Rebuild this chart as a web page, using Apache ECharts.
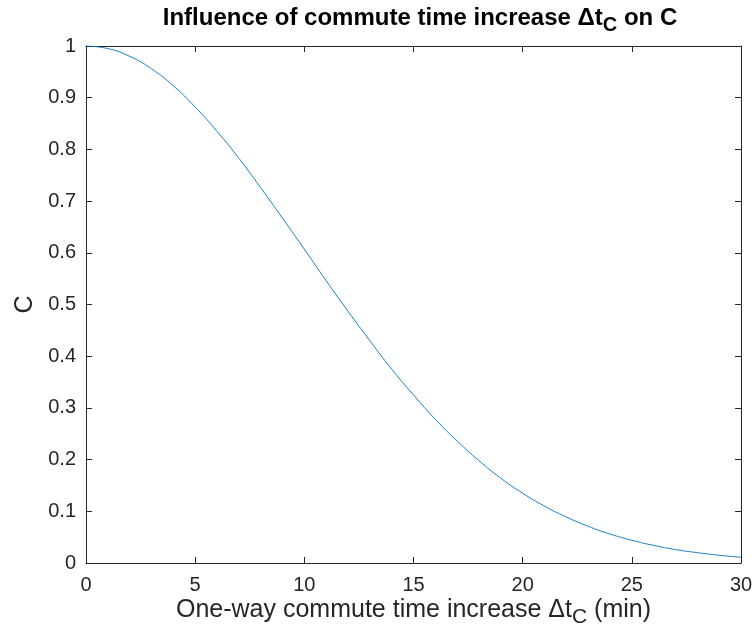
<!DOCTYPE html>
<html>
<head>
<meta charset="utf-8">
<script src="https://cdn.jsdelivr.net/npm/echarts@6/dist/echarts.min.js"></script>
<style>
  html, body { margin: 0; padding: 0; background: #fff; }
  #chart { width: 755px; height: 632px; }
</style>
</head>
<body>
<div id="chart"></div>
<script>
// commute time increase (min) and C
const commuteMinutes = [0, 1, 2, 3, 4, 5, 6, 7, 8, 9, 10, 11, 12, 13, 14, 15,
  16, 17, 18, 19, 20, 21, 22, 23, 24, 25, 26, 27, 28, 29, 30];
const cValues = [1.0, 0.995, 0.98, 0.956, 0.923, 0.882, 0.835, 0.783, 0.726, 0.667,
  0.607, 0.546, 0.487, 0.43, 0.375, 0.325, 0.278, 0.236, 0.198, 0.164,
  0.135, 0.11, 0.089, 0.071, 0.056, 0.044, 0.034, 0.026, 0.02, 0.015, 0.011];
const xTicks = [0, 5, 10, 15, 20, 25, 30];
const yTicks = [0, 0.1, 0.2, 0.3, 0.4, 0.5, 0.6, 0.7, 0.8, 0.9, 1];

const font = '"Liberation Sans", Arial, Helvetica, sans-serif';
const axisColor = '#262626';

const chart = echarts.init(document.getElementById('chart'));

const frameAxis = (extra) => Object.assign({
  type: 'value',
  axisLine: { show: true, onZero: false, lineStyle: { color: axisColor, width: 1 } },
  axisTick: { show: true, inside: true, length: 6, lineStyle: { color: axisColor } },
  splitLine: { show: false },
}, extra);

const option = {
  animation: false,
  title: {
    text: '{m|Influence of commute time increase Δt}{s|C}{m| on C}',
    left: 415,
    textAlign: 'center',
    top: -2,
    textStyle: {
      rich: {
        m: { fontFamily: font, fontSize: 24, fontWeight: 'bold', color: '#000', lineHeight: 30 },
        s: { fontFamily: font, fontSize: 20, fontWeight: 'bold', color: '#000', padding: [14, 0, 0, 0], lineHeight: 30 },
      },
    },
  },
  grid: { left: 86, right: 14, top: 46, bottom: 69, containLabel: false, outerBoundsMode: 'none' },
  xAxis: [
    frameAxis({
      position: 'bottom',
      min: 0, max: 30, interval: 5,
      axisLabel: {
        color: axisColor, fontFamily: font, fontSize: 20, margin: 12,
        formatter: (v) => xTicks.includes(v) ? String(v) : '',
      },
      name: '{m|One-way commute time increase Δt}{s|C}{m| (min)}',
      nameLocation: 'middle',
      nameGap: 32,
      nameMoveOverlap: false,
      nameTextStyle: {
        rich: {
          m: { fontFamily: font, fontSize: 25, color: axisColor, lineHeight: 30 },
          s: { fontFamily: font, fontSize: 21, color: axisColor, padding: [14, 0, 0, 0], lineHeight: 30 },
        },
      },
    }),
    frameAxis({
      position: 'top',
      min: 0, max: 30, interval: 5,
      axisLabel: { show: false },
    }),
  ],
  yAxis: [
    frameAxis({
      position: 'left',
      min: 0, max: 1, interval: 0.1,
      axisLabel: {
        color: axisColor, fontFamily: font, fontSize: 20, margin: 10,
        formatter: (v) => {
          const t = yTicks.find((y) => Math.abs(y - v) < 1e-9);
          return t === undefined ? '' : String(t);
        },
      },
      name: 'C',
      nameLocation: 'middle',
      nameGap: 48,
      nameRotate: 90,
      nameTextStyle: { fontFamily: font, fontSize: 25, color: axisColor },
    }),
    frameAxis({
      position: 'right',
      min: 0, max: 1, interval: 0.1,
      axisLabel: { show: false },
    }),
  ],
  series: [
    {
      type: 'line',
      xAxisIndex: 0,
      yAxisIndex: 0,
      data: commuteMinutes.map((t, i) => [t, cValues[i]]),
      smooth: true,
      showSymbol: false,
      lineStyle: { color: '#0072BD', width: 0.9 },
    },
  ],
};

chart.setOption(option);
</script>
</body>
</html>
